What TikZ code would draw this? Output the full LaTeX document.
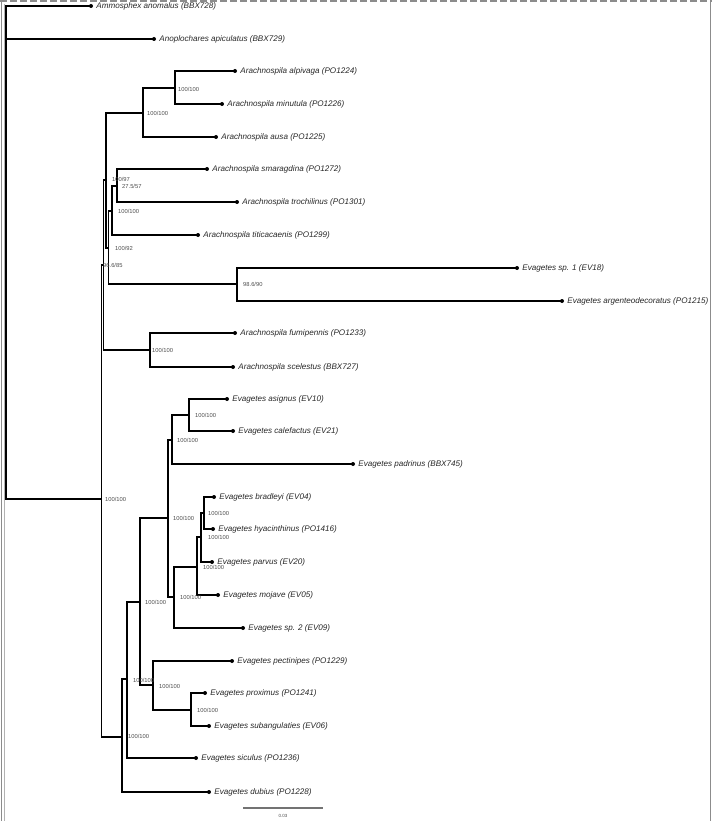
\documentclass[tikz,border=0pt]{standalone}
\usepackage{fontspec}
\setmainfont{Liberation Sans}
\begin{document}
\begin{tikzpicture}[x=1pt,y=-1pt,
  br/.style={line width=1.4pt, black, line cap=rect},
  tip/.style={circle, fill=black, inner sep=0pt, minimum size=4pt},
  taxon/.style={font=\fontsize{8.1}{9}\selectfont\itshape, text=black!85, inner sep=0pt, anchor=west},
  supp/.style={font=\fontsize{5.8}{6.5}\selectfont, text=black!70, inner sep=0pt, anchor=west},
  frame/.style={draw=black!45, line width=1.2pt}
]
\useasboundingbox (0,0) rectangle (712,821);
% frame
\coordinate (fTL) at (0,1.3); \coordinate (fTR) at (712,1.3);
\coordinate (fL1) at (1.5,0); \coordinate (fL2) at (1.5,821);
\coordinate (fL3) at (4,4); \coordinate (fL4) at (4,821);
\coordinate (fR1) at (710.8,0); \coordinate (fR2) at (710.8,821);
\draw[frame, line width=2.4pt, dash pattern=on 7pt off 3pt] (fTL) -- (fTR);
\draw[frame] (fL1) -- (fL2);
\draw[frame, draw=black!30, line width=0.8pt] (fL3) -- (fL4);
\draw[frame] (fR1) -- (fR2);

% internal nodes
\coordinate (R) at (6,250);
\coordinate (I) at (101.5,499);
\coordinate (A0) at (103.5,265);
\coordinate (A1) at (106,180);
\coordinate (N1) at (143,113);
\coordinate (N2) at (175,88);
\coordinate (A2) at (108.5,248);
\coordinate (A3) at (112,211);
\coordinate (A4) at (117,186);
\coordinate (S1) at (237,284);
\coordinate (F) at (150,350);
\coordinate (E0) at (122,737);
\coordinate (E1) at (127,679);
\coordinate (E2) at (140,602);
\coordinate (P) at (153,685);
\coordinate (P2) at (191,710);
\coordinate (E3) at (168,518);
\coordinate (E4) at (172,440);
\coordinate (E6) at (189,415);
\coordinate (E5) at (174,597);
\coordinate (E7) at (197,567);
\coordinate (E8) at (201,537);
\coordinate (E9) at (204,513);

% tips
\node[tip] (ammo) at (91,6) {};
\node[tip] (anop) at (154,39) {};
\node[tip] (alpi) at (235,71) {};
\node[tip] (minu) at (222,104) {};
\node[tip] (ausa) at (216,137) {};
\node[tip] (smar) at (207,169) {};
\node[tip] (troc) at (237,202) {};
\node[tip] (titi) at (198,235) {};
\node[tip] (ev18) at (517,268) {};
\node[tip] (arge) at (562,301) {};
\node[tip] (fumi) at (235,333) {};
\node[tip] (scel) at (233,367) {};
\node[tip] (asig) at (227,399) {};
\node[tip] (cale) at (233,431) {};
\node[tip] (padr) at (353,464) {};
\node[tip] (brad) at (214,497) {};
\node[tip] (hyac) at (213,529) {};
\node[tip] (parv) at (212,562) {};
\node[tip] (moja) at (218,595) {};
\node[tip] (ev09) at (243,628) {};
\node[tip] (pect) at (232,661) {};
\node[tip] (prox) at (205,693) {};
\node[tip] (suba) at (209,726) {};
\node[tip] (sicu) at (196,758) {};
\node[tip] (dubi) at (209,792) {};

% taxon labels
\node[taxon] (Lammo) at ([xshift=3pt]ammo.east) {Ammosphex anomalus (BBX728)};
\node[taxon] (Lanop) at ([xshift=3pt]anop.east) {Anoplochares apiculatus (BBX729)};
\node[taxon] (Lalpi) at ([xshift=3pt]alpi.east) {Arachnospila alpivaga (PO1224)};
\node[taxon] (Lminu) at ([xshift=3pt]minu.east) {Arachnospila minutula (PO1226)};
\node[taxon] (Lausa) at ([xshift=3pt]ausa.east) {Arachnospila ausa (PO1225)};
\node[taxon] (Lsmar) at ([xshift=3pt]smar.east) {Arachnospila smaragdina (PO1272)};
\node[taxon] (Ltroc) at ([xshift=3pt]troc.east) {Arachnospila trochilinus (PO1301)};
\node[taxon] (Ltiti) at ([xshift=3pt]titi.east) {Arachnospila titicacaenis (PO1299)};
\node[taxon] (Lev18) at ([xshift=3pt]ev18.east) {Evagetes sp. 1 (EV18)};
\node[taxon] (Large) at ([xshift=3pt]arge.east) {Evagetes argenteodecoratus (PO1215)};
\node[taxon] (Lfumi) at ([xshift=3pt]fumi.east) {Arachnospila fumipennis (PO1233)};
\node[taxon] (Lscel) at ([xshift=3pt]scel.east) {Arachnospila scelestus (BBX727)};
\node[taxon] (Lasig) at ([xshift=3pt]asig.east) {Evagetes asignus (EV10)};
\node[taxon] (Lcale) at ([xshift=3pt]cale.east) {Evagetes calefactus (EV21)};
\node[taxon] (Lpadr) at ([xshift=3pt]padr.east) {Evagetes padrinus (BBX745)};
\node[taxon] (Lbrad) at ([xshift=3pt]brad.east) {Evagetes bradleyi (EV04)};
\node[taxon] (Lhyac) at ([xshift=3pt]hyac.east) {Evagetes hyacinthinus (PO1416)};
\node[taxon] (Lparv) at ([xshift=3pt]parv.east) {Evagetes parvus (EV20)};
\node[taxon] (Lmoja) at ([xshift=3pt]moja.east) {Evagetes mojave (EV05)};
\node[taxon] (Lev09) at ([xshift=3pt]ev09.east) {Evagetes sp. 2 (EV09)};
\node[taxon] (Lpect) at ([xshift=3pt]pect.east) {Evagetes pectinipes (PO1229)};
\node[taxon] (Lprox) at ([xshift=3pt]prox.east) {Evagetes proximus (PO1241)};
\node[taxon] (Lsuba) at ([xshift=3pt]suba.east) {Evagetes subangulaties (EV06)};
\node[taxon] (Lsicu) at ([xshift=3pt]sicu.east) {Evagetes siculus (PO1236)};
\node[taxon] (Ldubi) at ([xshift=3pt]dubi.east) {Evagetes dubius (PO1228)};

% branches
\draw[br] (R) |- (ammo); \draw[br] (R) |- (anop); \draw[br] (R) |- (I);
\draw[br] (I) |- (A0); \draw[br] (I) |- (E0);
\draw[br] (A0) |- (A1); \draw[br] (A0) |- (F);
\draw[br] (A1) |- (N1); \draw[br] (A1) |- (A2);
\draw[br] (N1) |- (N2); \draw[br] (N1) |- (ausa);
\draw[br] (N2) |- (alpi); \draw[br] (N2) |- (minu);
\draw[br] (A2) |- (A3); \draw[br] (A2) |- (S1);
\draw[br] (A3) |- (A4); \draw[br] (A3) |- (titi);
\draw[br] (A4) |- (smar); \draw[br] (A4) |- (troc);
\draw[br] (S1) |- (ev18); \draw[br] (S1) |- (arge);
\draw[br] (F) |- (fumi); \draw[br] (F) |- (scel);
\draw[br] (E0) |- (E1); \draw[br] (E0) |- (dubi);
\draw[br] (E1) |- (E2); \draw[br] (E1) |- (sicu);
\draw[br] (E2) |- (E3); \draw[br] (E2) |- (P);
\draw[br] (P) |- (pect); \draw[br] (P) |- (P2);
\draw[br] (P2) |- (prox); \draw[br] (P2) |- (suba);
\draw[br] (E3) |- (E4); \draw[br] (E3) |- (E5);
\draw[br] (E4) |- (E6); \draw[br] (E4) |- (padr);
\draw[br] (E6) |- (asig); \draw[br] (E6) |- (cale);
\draw[br] (E5) |- (E7); \draw[br] (E5) |- (ev09);
\draw[br] (E7) |- (E8); \draw[br] (E7) |- (moja);
\draw[br] (E8) |- (E9); \draw[br] (E8) |- (parv);
\draw[br] (E9) |- (brad); \draw[br] (E9) |- (hyac);

% support values
\node[supp] (sN2) at (178,89) {100/100};
\node[supp] (sN1) at (147,113) {100/100};
\node[supp] (sA1) at (112,179) {100/97};
\node[supp] (sA4) at (122,186.5) {27.5/57};
\node[supp] (sA3) at (118,211) {100/100};
\node[supp] (sA2) at (115,248) {100/92};
\node[supp] (sA0) at (103,265) {96.6/85};
\node[supp] (sS1) at (243,284) {98.6/90};
\node[supp] (sF) at (152,350) {100/100};
\node[supp] (sI) at (105,499) {100/100};
\node[supp] (sE6) at (195,415) {100/100};
\node[supp] (sE4) at (177,440) {100/100};
\node[supp] (sE3) at (173,518) {100/100};
\node[supp] (sE9) at (208,513) {100/100};
\node[supp] (sE8) at (208,537) {100/100};
\node[supp] (sE7) at (203,567) {100/100};
\node[supp] (sE5) at (180,597) {100/100};
\node[supp] (sE2) at (145,602) {100/100};
\node[supp] (sE1) at (133,680) {100/100};
\node[supp] (sP) at (159,686) {100/100};
\node[supp] (sP2) at (197,710) {100/100};
\node[supp] (sE0) at (128,736) {100/100};

% scale bar
\coordinate (sb1) at (243,808); \coordinate (sb2) at (323,808);
\draw[line width=1.6pt, black!55] (sb1) -- (sb2);
\node[font=\fontsize{4.5}{5}\selectfont, text=black!70, inner sep=0pt] (sbl) at (283,816) {0.03};
\end{tikzpicture}
\end{document}
